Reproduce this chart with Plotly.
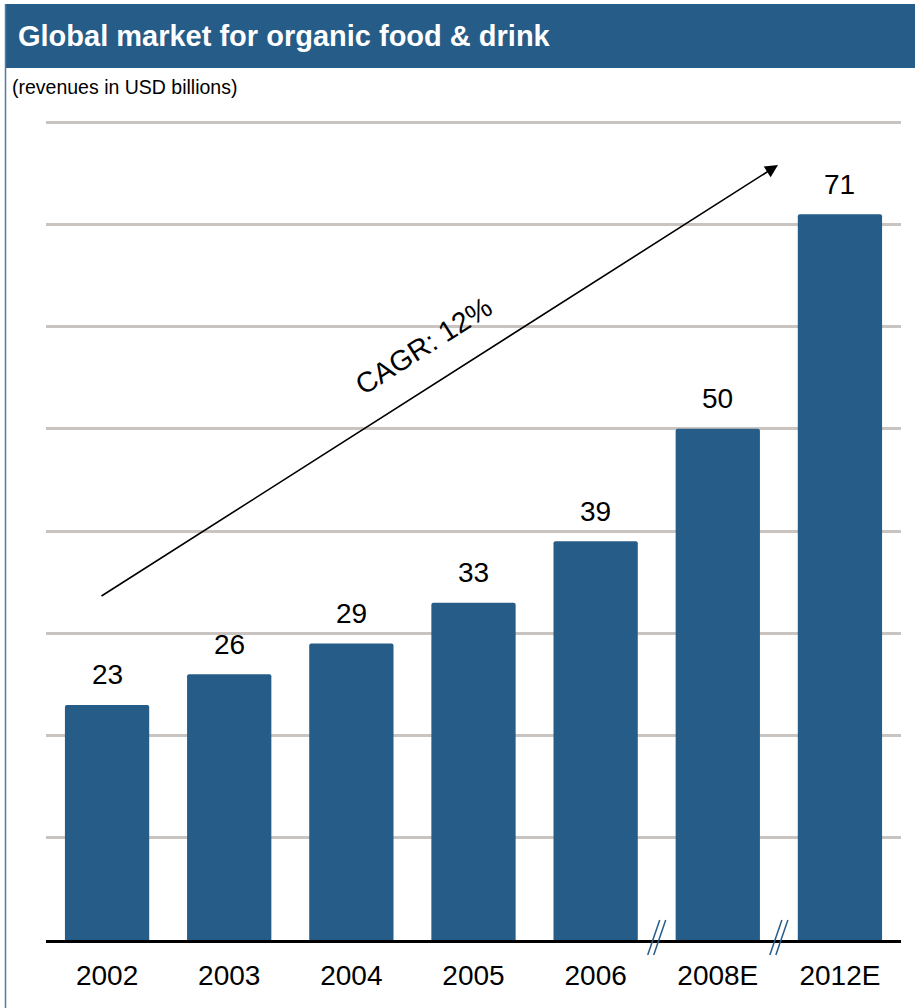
import plotly.graph_objects as go

categories = ["2002", "2003", "2004", "2005", "2006", "2008E", "2012E"]
revenues = [23, 26, 29, 33, 39, 50, 71]
grid_values = [10, 20, 30, 40, 50, 60, 70, 80]

title_text = "Global market for organic food & drink"
subtitle_text = "(revenues in USD billions)"
cagr_text = "CAGR: 12%"

BLUE = "#265C88"
FONT = "Liberation Sans, Arial, Helvetica, sans-serif"

W, H = 915, 1008
ML, MR, MT, MB = 46, 14, 114, 68
PW, PH = W - ML - MR, H - MT - MB
YMAX = 80.8


def px_x(px):
    return (px - ML) / PW


def px_y(py):
    return (H - MB - py) / PH


def cat_x(px):
    return (px - ML) / PW * len(categories) - 0.5


def val_y(py):
    return (H - MB - py) / (PH / YMAX)


fig = go.Figure()
fig.add_trace(go.Bar(
    x=categories, y=revenues,
    marker=dict(color=BLUE, line=dict(width=0), cornerradius=2),
    width=0.69, hoverinfo="skip",
))

annotations = []
for i, v in enumerate(revenues):
    annotations.append(dict(x=i, y=v, xref="x", yref="y", text=str(v), showarrow=False, yshift=30,
                            font=dict(size=28, color="black", family=FONT)))

# CAGR arrow
annotations.append(dict(x=cat_x(778), y=val_y(165), ax=cat_x(100), ay=val_y(597),
                        xref="x", yref="y", axref="x", ayref="y",
                        text="", showarrow=True, arrowhead=2, arrowsize=1.6, arrowwidth=1.6,
                        arrowcolor="black"))
annotations.append(dict(x=cat_x(423), y=val_y(346), xref="x", yref="y", text=cagr_text,
                        showarrow=False, textangle=-32.5,
                        font=dict(size=28.5, color="black", family=FONT)))
annotations.append(dict(x=px_x(10), y=px_y(87), xref="paper", yref="paper", text=subtitle_text,
                        showarrow=False, xanchor="left", yanchor="middle",
                        font=dict(size=19.5, color="black", family=FONT)))

shapes = [
    dict(type="rect", xref="paper", yref="paper", x0=px_x(5), x1=px_x(915), y0=px_y(68), y1=px_y(4),
         fillcolor=BLUE, line=dict(width=0), layer="below"),
    dict(type="line", xref="paper", yref="paper", x0=px_x(5.5), x1=px_x(5.5), y0=px_y(1008), y1=px_y(4),
         line=dict(color="#4F7BA6", width=1.5)),
]
# axis break marks between 2006|2008E and 2008E|2012E
unit = PW / len(categories)
for bx in (4.5, 5.5):
    for off in (-3, 3):
        shapes.append(dict(type="line", xref="x", yref="paper",
                           x0=bx + (off - 6) / unit, x1=bx + (off + 6) / unit,
                           y0=px_y(955), y1=px_y(920),
                           line=dict(color=BLUE, width=1.5)))

fig.update_layout(
    width=W, height=H,
    margin=dict(l=ML, r=MR, t=MT, b=MB, pad=0),
    paper_bgcolor="white", plot_bgcolor="white",
    showlegend=False,
    title=dict(text="<b>" + title_text + "</b>", x=18 / W, y=1 - 36 / H, xref="container", yref="container",
               xanchor="left", yanchor="middle", font=dict(size=29, color="white", family=FONT)),
    annotations=annotations,
    shapes=shapes,
    bargap=0.31,
)
fig.update_xaxes(type="category", range=[-0.5, len(categories) - 0.5], showline=True, linecolor="black",
                 linewidth=2.5, ticks="", showgrid=False, ticklabelstandoff=9,
                 tickfont=dict(size=28, color="black", family=FONT))
fig.update_yaxes(range=[0, YMAX], tickvals=grid_values, showticklabels=False, showgrid=True,
                 gridcolor="#C9C4BF", gridwidth=2.5, zeroline=False, showline=False)

fig.write_html("out.html")
